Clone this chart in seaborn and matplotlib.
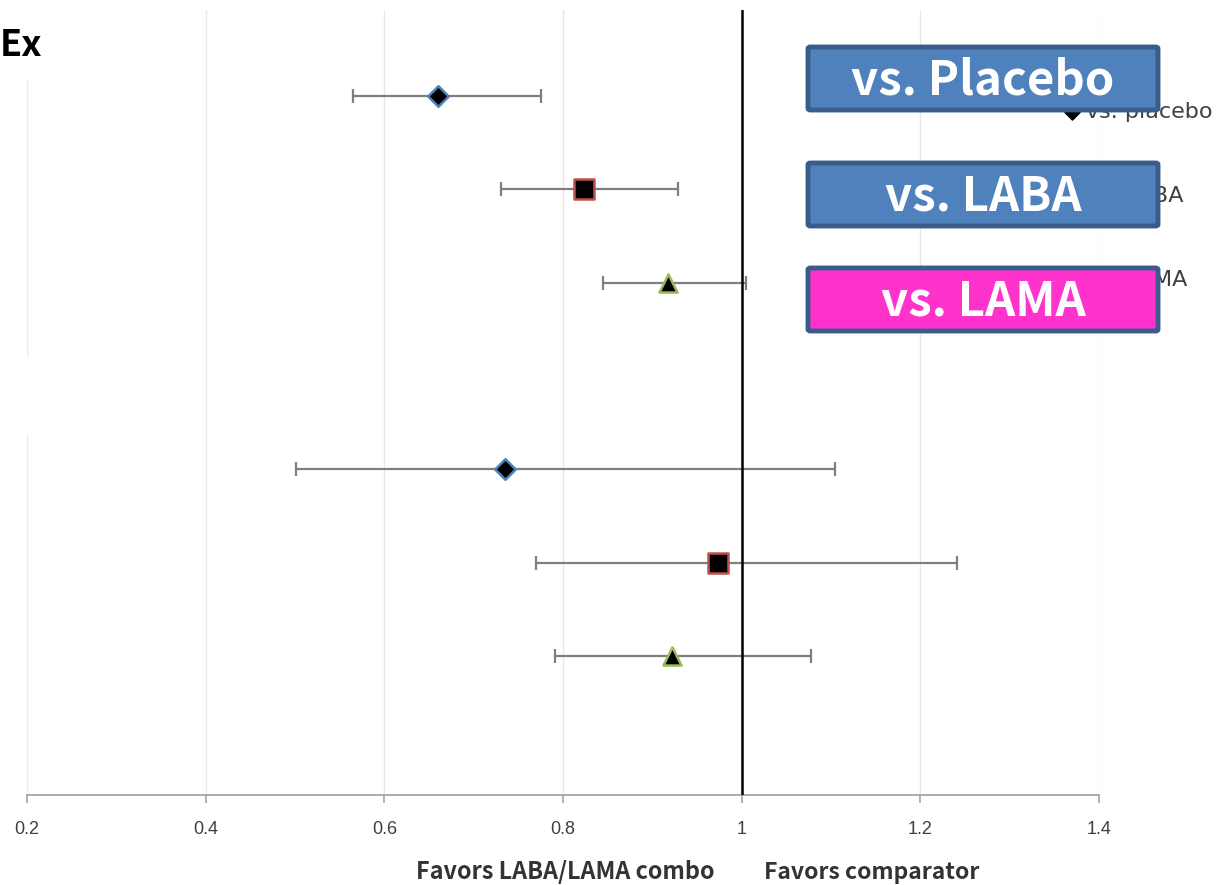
import numpy as np
import pandas as pd
import matplotlib
matplotlib.use('Agg')
import matplotlib.pyplot as plt
import seaborn as sns
from matplotlib.patches import FancyBboxPatch

sns.set_theme(style='white')
plt.rcParams['font.family'] = ['Noto Sans CJK KR', 'DejaVu Sans']

# ==== 数据====
comparators = ['vs. placebo', 'vs. LABA', 'vs. LAMA', 'vs. placebo', 'vs. LABA', 'vs. LAMA']
row_pos = [0, 1, 2, 4, 5, 6]
odds = [0.660, 0.823, 0.918, 0.735, 0.974, 0.922]
ci_low = [0.565, 0.731, 0.845, 0.501, 0.770, 0.791]
ci_high = [0.775, 0.929, 1.005, 1.105, 1.241, 1.078]
x_ticks = [0.2, 0.4, 0.6, 0.8, 1.0, 1.2, 1.4]
x_labels = ['0.2', '0.4', '0.6', '0.8', '1', '1.2', '1.4']
box_labels = ['vs. Placebo', 'vs. LABA', 'vs. LAMA']

df = pd.DataFrame({'comp': comparators, 'row': row_pos, 'or': odds,
                   'lo': ci_low, 'hi': ci_high})

edge_colors = {'vs. placebo': '#4F81BD', 'vs. LABA': '#C0504D', 'vs. LAMA': '#9BBB59'}
markers = {'vs. placebo': 'D', 'vs. LABA': 's', 'vs. LAMA': '^'}
sizes = {'vs. placebo': 110, 'vs. LABA': 190, 'vs. LAMA': 170}

fig = plt.figure(figsize=(12.17, 8.85), dpi=100)
ax = fig.add_axes([27 / 1217, 1 - 795 / 885, (1099 - 27) / 1217, (795 - 10) / 885])

# 网格线
for xv in x_ticks[1:]:
    ax.axvline(xv, color='#E8E8E8', lw=1, zorder=0)
ax.axvline(0.2, ymin=0, ymax=(795 - 435) / 785, color='#E8E8E8', lw=1, zorder=0)
ax.axvline(0.2, ymin=(795 - 355) / 785, ymax=(795 - 80) / 785, color='#E8E8E8', lw=1, zorder=0)

# 置信区间
ax.errorbar(df['or'], df['row'],
            xerr=[df['or'] - df['lo'], df['hi'] - df['or']],
            fmt='none', ecolor='#7F7F7F', elinewidth=1.6, capsize=5, capthick=1.6, zorder=2)

# 参考线 x=1
ax.axvline(1.0, color='black', lw=1.8, zorder=3)

# 点估计
for comp, sub in df.groupby('comp', sort=False):
    sns.scatterplot(data=sub, x='or', y='row', marker=markers[comp], s=sizes[comp],
                    color='black', edgecolor=edge_colors[comp], linewidth=1.8,
                    ax=ax, zorder=4, legend=False)

ax.set_xlim(0.2, 1.4)
ax.set_ylim(7.49, -0.92)
ax.set_xticks(x_ticks)
ax.set_xticklabels(x_labels, fontsize=13, color='#404040',
                   family=['Liberation Sans Narrow', 'Liberation Sans'])
ax.set_yticks([])
ax.set_xlabel('')
ax.set_ylabel('')
ax.tick_params(axis='x', direction='out', length=6, color='#A6A6A6', width=1.2, pad=13, bottom=True)
for s in ['top', 'right', 'left']:
    ax.spines[s].set_visible(False)
ax.spines['bottom'].set_color('#A6A6A6')
ax.spines['bottom'].set_linewidth(1.3)

# 原图例残留（大部分被标签框遮住）
ax.scatter([1.37], [0.17], marker='D', s=60, color='black', zorder=5, clip_on=False)
leg_y = [0.17, 1.07, 1.97]
for lab, yy in zip(['vs. placebo', 'vs. LABA', 'vs. LAMA'], leg_y):
    ax.text(1.386, yy, lab, fontsize=16, color='#404040', va='center', ha='left',
            family=['DejaVu Sans'], clip_on=False, zorder=5)

# 覆盖的标签框
box_tops = [47, 163, 268]
box_fill = ['#4F81BD', '#4F81BD', '#FF33CC']
for lab, top, fc in zip(box_labels, box_tops, box_fill):
    x0, x1 = 808 / 1217, 1158 / 1217
    y1 = 1 - top / 885
    y0 = 1 - (top + 63) / 885
    rect = FancyBboxPatch((x0, y0), x1 - x0, y1 - y0, boxstyle='round,pad=0,rounding_size=0.002',
                          transform=fig.transFigure, facecolor=fc, edgecolor='#385D8A',
                          linewidth=3.5, zorder=10)
    fig.patches.append(rect)
    fig.text((x0 + x1) / 2, (y0 + y1) / 2 - 0.002, lab, ha='center', va='center',
             fontsize=34, fontweight='bold', color='white', zorder=11)

# 左上角标题残片
fig.text(0.0, 1 - 45 / 885, 'Ex', fontsize=26, fontweight='bold', color='black',
         ha='left', va='center')

# 底部说明
fig.text(565 / 1217, 1 - 872 / 885, 'Favors LABA/LAMA combo', ha='center', va='center',
         fontsize=16.8, fontweight='bold', color='#333333')
fig.text(872 / 1217, 1 - 872 / 885, 'Favors comparator', ha='center', va='center',
         fontsize=16.5, fontweight='bold', color='#333333')

fig.savefig('out.png', dpi=100)
